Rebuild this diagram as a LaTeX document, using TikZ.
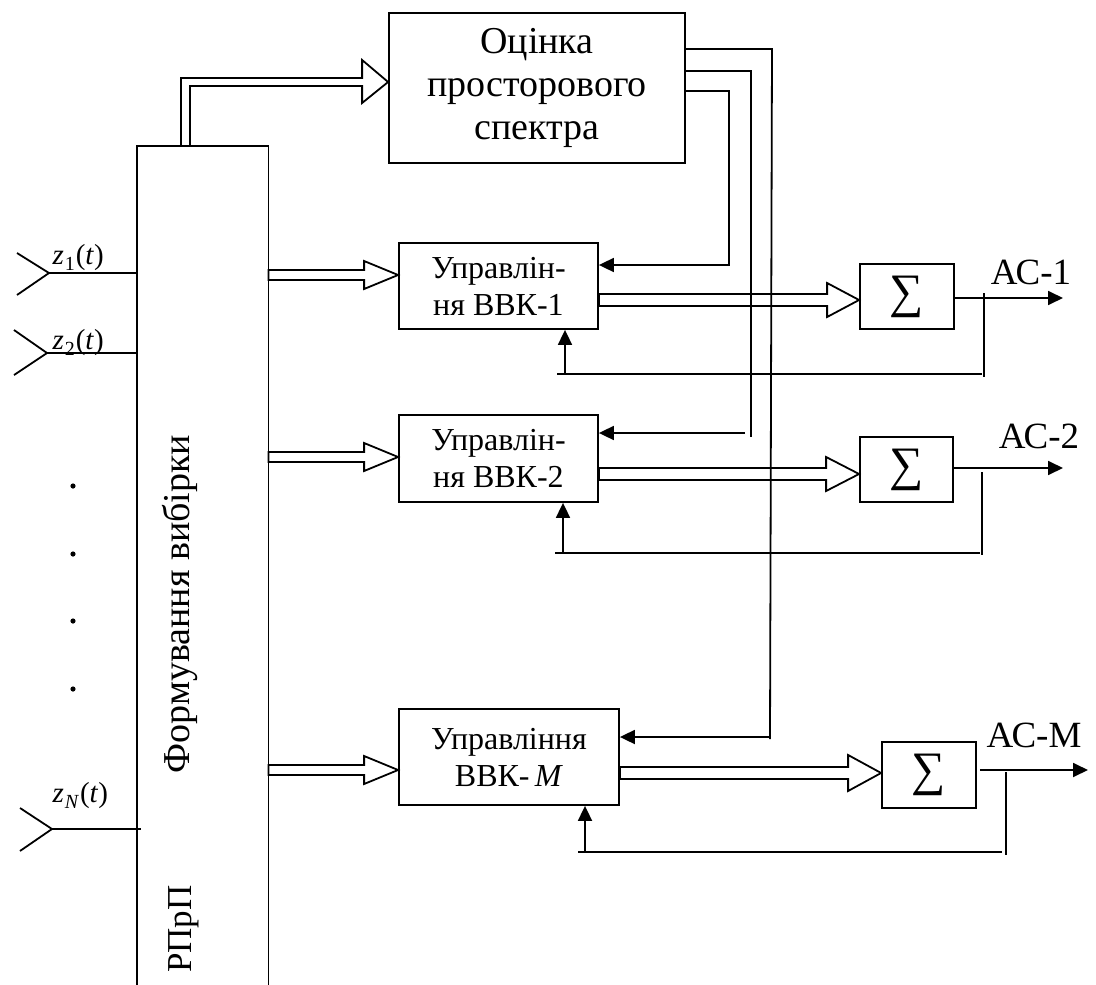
\documentclass[tikz,border=0pt]{standalone}
\usepackage{fontspec}
\setmainfont{Liberation Serif}
\usetikzlibrary{arrows.meta,calc}

% hollow (outlined) wide arrow: start, target, half shaft, half head, head length
\newcommand\hollowarr[5]{%
  \draw[wire] let \p1=(#1), \p2=(#2) in
    (\x1,{\y1+#3pt}) -- ({\x2-#5pt},{\y1+#3pt}) -- ({\x2-#5pt},{\y1+#4pt})
    -- (\x2,\y1) -- ({\x2-#5pt},{\y1-#4pt}) -- ({\x2-#5pt},{\y1-#3pt})
    -- (\x1,{\y1-#3pt}) -- cycle;}
% signal name with a lowered index
\newcommand\sig[1]{\textit{z}\kern1pt\raisebox{-6pt}{\fontsize{20}{20}\selectfont #1}\kern1pt(\textit{t})}

\begin{document}
\begin{tikzpicture}[x=1pt,y=-1pt,
  wire/.style={line width=1.8pt, line join=miter},
  arr/.style={wire, -{Triangle[length=15pt,width=14pt]}},
  box/.style={draw, line width=1.8pt, inner sep=0pt, align=center},
  bigtxt/.style={font=\fontsize{38}{43}\selectfont},
  midtxt/.style={font=\fontsize{32}{37}\selectfont},
  outtxt/.style={font=\fontsize{37}{37}\selectfont},
  sigtxt/.style={font=\fontsize{48}{48}\selectfont},
  ztxt/.style={font=\fontsize{29}{29}\selectfont},
  dot/.style={fill=black}]
\useasboundingbox (0,0) rectangle (1096,985);

% sample-forming block (open at the bottom)
\node[inner sep=0pt, minimum width=131, minimum height=839, anchor=north west] (fv) at (137,146) {};
\draw[wire] (fv.south west) -- (fv.north west) -- (fv.north east) -- (fv.south east);
\node[bigtxt, rotate=90] (fvt) at (180,604) {Формування вибірки};
\node[font=\fontsize{35}{35}\selectfont, rotate=90] (rp) at (184,929) {РПрП};

% main blocks
\node[box, bigtxt, minimum width=296, minimum height=150] (est) at (537,88) {Оцінка\\просторового\\спектра};
\node[box, midtxt, minimum width=199, minimum height=86] (b1) at (498.5,286) {Управлін-\\ня ВВК-1};
\node[box, midtxt, minimum width=199, minimum height=87] (b2) at (498.5,458.5) {Управлін-\\ня ВВК-2};
\node[box, midtxt, minimum width=220, minimum height=96] (bm) at (509,757) {Управління\\ВВК-\,\textit{M}};
\node[box, sigtxt, minimum width=94, minimum height=65] (s1) at (907,296.5) {\symbol{"2211}};
\node[box, sigtxt, minimum width=93, minimum height=65] (s2) at (906.5,469.5) {\symbol{"2211}};
\node[box, sigtxt, minimum width=94, minimum height=66] (sm) at (929,775) {\symbol{"2211}};

% antennas
\coordinate (a1) at (49,273);
\coordinate (a2) at (47,353);
\coordinate (an) at (52,829);
\draw[wire] (17,253) -- (a1) -- (17,295);
\draw[wire] (14,330) -- (a2) -- (14,375);
\draw[wire] (20,808) -- (an) -- (20,851);
\draw[wire] (a1) -- (a1 -| fv.west);
\draw[wire] (a2) -- (a2 -| fv.west);
\draw[wire] (an) -- ($(an -| fv.west)+(4,0)$);
\node[ztxt, anchor=west] (z1) at (49,258) {\sig{1}};
\node[ztxt, anchor=west] (z2) at (49,343) {\sig{2}};
\node[ztxt, anchor=west] (zn) at (49,796) {\sig{\textit{N}}};
\foreach \yy in {486,554,621,689} \fill[dot] (73,\yy) circle (2.6);

% wide arrow to the spectrum estimator
\draw[wire] let \p1=(fv.north west), \p2=(est.west) in
  ({\x1+44pt},\y1) -- ({\x1+44pt},{\y2+10pt}) -- ({\x2-26pt},{\y2+10pt})
  -- ({\x2-26pt},{\y2+28pt}) -- (\x2,{\y2+6pt}) -- ({\x2-26pt},{\y2-15pt})
  -- ({\x2-26pt},{\y2+2pt}) -- ({\x1+53pt},{\y2+2pt}) -- ({\x1+53pt},\y1);

% wide arrows from the sample-forming block
\hollowarr{fv.east |- 0,275}{b1.west}{5}{14}{34}
\hollowarr{fv.east |- 0,457}{b2.west}{5}{14}{34}
\hollowarr{fv.east |- 0,770}{bm.west}{5}{14}{34}

% wide arrows to the summers
\hollowarr{b1.east |- 0,300}{s1.west}{6}{17}{32}
\hollowarr{b2.east |- 0,474}{s2.west}{6}{17}{33}
\hollowarr{bm.east |- 0,773}{sm.west}{6}{18}{33}

% control lines from the spectrum estimator
\draw[arr] (est.east |- 0,91) -- (729,91) -- (729,265) -- (b1.east |- 0,265);
\draw[wire] (est.east |- 0,71) -- (751,71) -- (751,437);
\draw[arr] (745,433) -- (b2.east |- 0,433);
\draw[wire] (est.east |- 0,49) -- (772,49) -- (770,739);
\draw[arr] (770,737) -- (bm.east |- 0,737);

% outputs
\draw[arr] (s1.east |- 0,298) -- (1063,298);
\draw[arr] (s2.east |- 0,468) -- (1063,468);
\draw[arr] ($(sm.east |- 0,770)+(3,0)$) -- (1088,770);
\node[outtxt] (o1) at (1031,272) {АС-1};
\node[outtxt] (o2) at (1039,436) {АС-2};
\node[outtxt] (om) at (1034,735) {АС-M};

% feedback loops
\draw[wire] (984,293) -- (984,377);
\draw[wire] (982,374) -- (557,374);
\draw[arr] (565,374) -- (b1.south -| 565,0);
\draw[wire] (982,472) -- (982,555);
\draw[wire] (980,553) -- (555,553);
\draw[arr] (563,553) -- (b2.south -| 563,0);
\draw[wire] (1006,772) -- (1006,855);
\draw[wire] (1002,852) -- (578,852);
\draw[arr] (585,852) -- (bm.south -| 585,0);
\end{tikzpicture}
\end{document}
